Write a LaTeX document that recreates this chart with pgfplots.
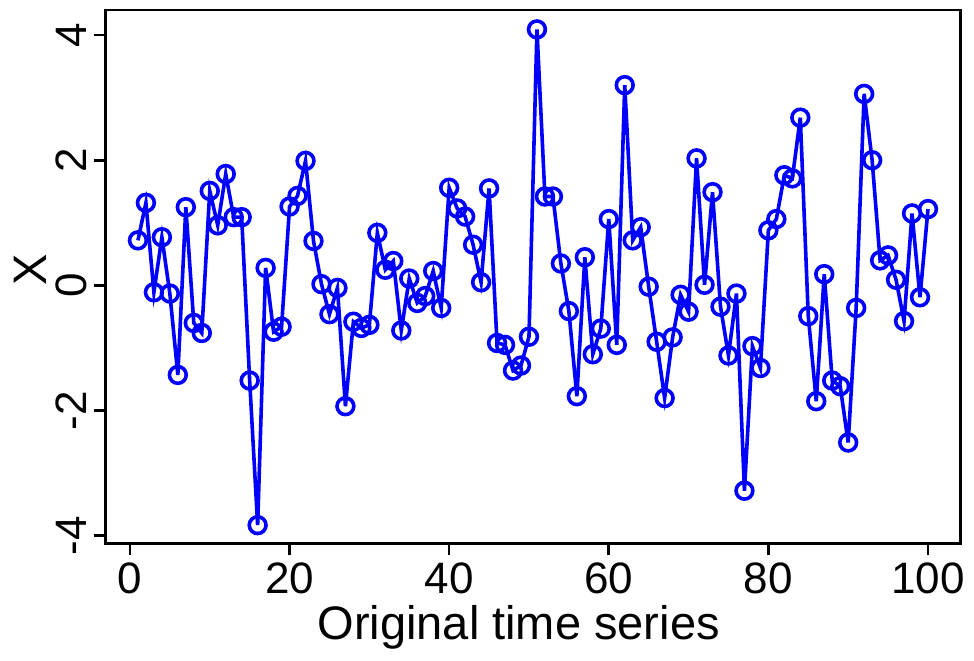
\documentclass[border=0pt]{standalone}
\usepackage{fontspec}
\setmainfont{Liberation Sans}
\usepackage{pgfplots}
\usepackage{pgfplotstable}
\pgfplotsset{compat=1.18}
\pgfplotstableread{
t v
1 0.72
2 1.32
3 -0.11
4 0.77
5 -0.13
6 -1.43
7 1.25
8 -0.60
9 -0.76
10 1.51
11 0.96
12 1.78
13 1.09
14 1.09
15 -1.52
16 -3.83
17 0.28
18 -0.74
19 -0.66
20 1.26
21 1.43
22 1.99
23 0.71
24 0.02
25 -0.46
26 -0.04
27 -1.93
28 -0.58
29 -0.68
30 -0.63
31 0.84
32 0.25
33 0.39
34 -0.72
35 0.11
36 -0.28
37 -0.17
38 0.23
39 -0.36
40 1.56
41 1.23
42 1.10
43 0.65
44 0.05
45 1.55
46 -0.92
47 -0.95
48 -1.36
49 -1.28
50 -0.82
51 4.09
52 1.42
53 1.42
54 0.35
55 -0.41
56 -1.77
57 0.45
58 -1.10
59 -0.69
60 1.06
61 -0.95
62 3.20
63 0.72
64 0.93
65 -0.02
66 -0.90
67 -1.80
68 -0.83
69 -0.15
70 -0.42
71 2.03
72 0.01
73 1.49
74 -0.34
75 -1.12
76 -0.13
77 -3.28
78 -0.97
79 -1.32
80 0.88
81 1.06
82 1.76
83 1.71
84 2.68
85 -0.49
86 -1.85
87 0.18
88 -1.52
89 -1.61
90 -2.51
91 -0.36
92 3.06
93 2.00
94 0.40
95 0.48
96 0.09
97 -0.57
98 1.15
99 -0.19
100 1.22
}\datatable
\begin{document}
\begin{tikzpicture}
\begin{axis}[
  name=ax,
  scale only axis,
  width=427.5pt, height=266.65pt,
  xmin=-3.04, xmax=104.1,
  ymin=-4.12, ymax=4.4,
  xtick={0,20,40,60,80,100},
  ytick={-4,-2,0,2,4},
  tick align=outside,
  xtick pos=bottom, ytick pos=left,
  major tick length=6pt,
  axis line style={line width=1.3pt},
  every tick/.style={black, line width=1.3pt},
  tick label style={font=\fontsize{22}{26}\selectfont},
  /pgf/number format/assume math mode=true,
  yticklabel style={rotate=90, anchor=south},
  label style={font=\fontsize{23.5}{28}\selectfont},
  xlabel={Original time series},
  ylabel={X},
  xlabel style={at={(axis description cs:0.483,0)}, anchor=base, yshift=-48pt},
  ylabel style={at={(axis description cs:0,0.512)}, anchor=center, yshift=37.8pt},
]
\addplot[color={rgb,255:red,0;green,0;blue,255}, line width=1.8pt,
  mark=o, mark size=4.2pt, mark options={line width=1.8pt, fill=none}]
  table[x=t, y=v] {\datatable};
\end{axis}
\pgfresetboundingbox
\path[use as bounding box] ([xshift=-52.85pt,yshift=-58.35pt]ax.south west) rectangle ([xshift=6.65pt,yshift=5pt]ax.north east);
\end{tikzpicture}
\end{document}
